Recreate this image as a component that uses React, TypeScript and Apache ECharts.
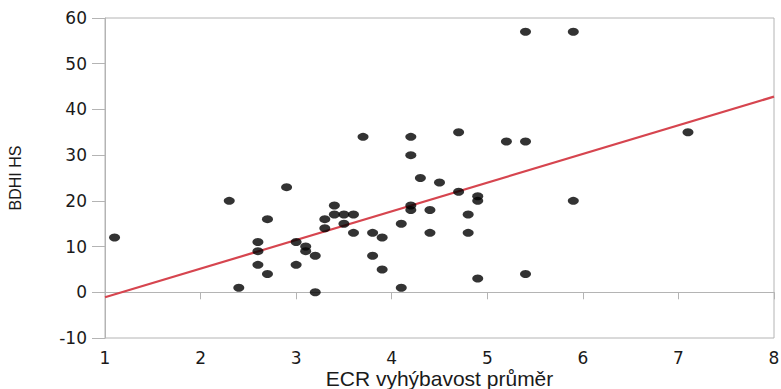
import React, { useEffect, useRef } from "react";
import * as echarts from "echarts";

const xValues = [
  1.1, 2.3, 2.4, 2.6, 2.6, 2.6, 2.7, 2.7, 2.9, 3.0, 3.0, 3.1, 3.1, 3.2, 3.2,
  3.3, 3.3, 3.4, 3.4, 3.5, 3.5, 3.6, 3.6, 3.7, 3.8, 3.8, 3.9, 3.9, 4.1, 4.1,
  4.2, 4.2, 4.2, 4.2, 4.3, 4.4, 4.4, 4.5, 4.7, 4.7, 4.8, 4.8, 4.9, 4.9, 4.9,
  5.2, 5.4, 5.4, 5.4, 5.9, 5.9, 7.1,
];
const yValues = [
  12, 20, 1, 11, 9, 6, 16, 4, 23, 11, 6, 10, 9, 8, 0,
  16, 14, 19, 17, 17, 15, 17, 13, 34, 13, 8, 12, 5, 15, 1,
  34, 30, 19, 18, 25, 18, 13, 24, 35, 22, 17, 13, 21, 20, 3,
  33, 57, 33, 4, 57, 20, 35,
];
const fitX = [1, 8];
const fitY = [-1.1, 42.8];
const xTicks = [1, 8, 1];
const yTicks = [-10, 60, 10];

export default function App() {
  const ref = useRef<HTMLDivElement>(null);
  useEffect(() => {
    if (!ref.current) return;
    const chart = echarts.init(ref.current, undefined, { renderer: "svg" });
    const axisColor = "#b4b4b4";
    const labelStyle = {
      fontFamily: "DejaVu Sans",
      fontSize: 17,
      lineHeight: 17,
      color: "#1a1a1a",
    };
    chart.setOption({
      animation: false,
      backgroundColor: "#ffffff",
      grid: {
        left: 105,
        right: 7,
        top: 18,
        bottom: 51,
        show: true,
        borderColor: axisColor,
        borderWidth: 1,
        outerBoundsMode: "none",
        containLabel: false,
      },
      xAxis: {
        type: "value",
        min: xTicks[0],
        max: xTicks[1],
        interval: xTicks[2],
        name: "ECR vyhýbavost průměr",
        nameLocation: "middle",
        nameGap: 40,
        nameMoveOverlap: false,
        nameTextStyle: {
          fontFamily: "Liberation Sans",
          fontSize: 21,
          lineHeight: 21,
          verticalAlign: "middle",
          color: "#1a1a1a",
        },
        axisLine: { show: true, lineStyle: { color: axisColor, width: 1 } },
        axisTick: { show: true, length: 7, lineStyle: { color: axisColor } },
        axisLabel: { ...labelStyle, margin: 11 },
        splitLine: { show: false },
      },
      yAxis: {
        type: "value",
        min: yTicks[0],
        max: yTicks[1],
        interval: yTicks[2],
        name: "BDHI HS",
        nameLocation: "middle",
        nameGap: 82,
        nameRotate: 90,
        nameMoveOverlap: false,
        nameTextStyle: {
          fontFamily: "Liberation Sans",
          fontSize: 16,
          color: "#1a1a1a",
        },
        axisLine: { show: true, lineStyle: { color: axisColor, width: 1 } },
        axisTick: { show: true, length: 13, lineStyle: { color: axisColor } },
        axisLabel: { ...labelStyle, margin: 18 },
        splitLine: { show: false },
      },
      series: [
        {
          type: "line",
          data: fitX.map((x, i) => [x, fitY[i]]),
          symbol: "none",
          lineStyle: { color: "#d6454f", width: 2.2 },
          z: 2,
        },
        {
          type: "scatter",
          data: xValues.map((x, i) => [x, yValues[i]]),
          symbol: "circle",
          symbolSize: [11, 8],
          itemStyle: { color: "#000000" },
          z: 3,
        },
      ],
    });
    return () => chart.dispose();
  }, []);
  return (
    <div
      ref={ref}
      style={{ width: 781, height: 389, position: "fixed", left: 0, top: 0 }}
    />
  );
}
